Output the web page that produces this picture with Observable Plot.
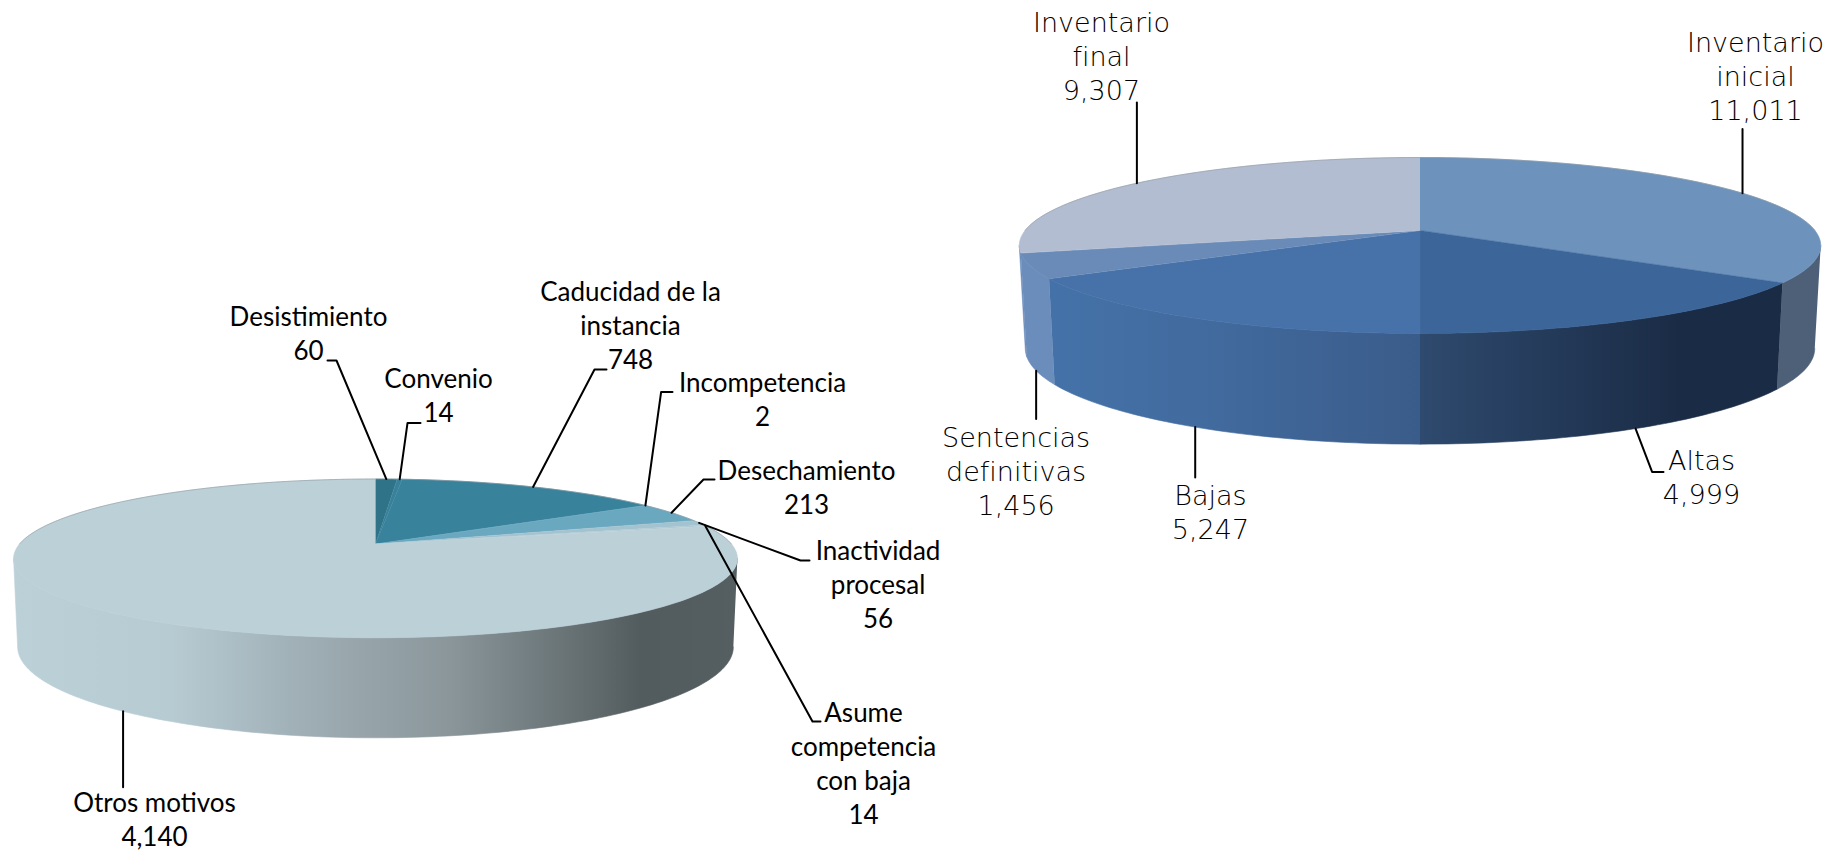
<!DOCTYPE html>
<html lang="es">
<head>
<meta charset="utf-8">
<title>Bajas y movimiento de expedientes</title>
<script src="https://cdn.jsdelivr.net/npm/d3@7"></script>
<script src="https://cdn.jsdelivr.net/npm/@observablehq/plot@0.6"></script>
<style>
  html, body { margin: 0; padding: 0; background: #fff; }
  svg { display: block; }
</style>
</head>
<body>
<div id="chart"></div>
<script>
// ---- data ----
const motivoNames = ["Desistimiento", "Convenio", "Caducidad de la\ninstancia", "Incompetencia", "Desechamiento", "Inactividad\nprocesal", "Asume\ncompetencia\ncon baja", "Otros motivos"];
const motivoValues = [60, 14, 748, 2, 213, 56, 14, 4140];
const movimientoNames = ["Inventario\ninicial", "Altas", "Bajas", "Sentencias\ndefinitivas", "Inventario\nfinal"];
const movimientoValues = [11011, 4999, 5247, 1456, 9307];

// ---- styles ----
const motivoColors = ["#2f7389", "#39809a", "#38829c", "#5f9fb8", "#6aa8c0", "#a3c3d0", "#aec9d3", "#bcd0d8"];
const movimientoColors = ["#6d93bd", "#3c6699", "#4672a9", "#6a8bb8", "#b2bdd2"];
const motivoSideStops = [[[12, "#bcd0d8"], [170, "#b7cbd3"], [300, "#a0afb6"], [450, "#8a969a"], [600, "#5f696c"], [640, "#525b5e"], [736, "#555e61"]]];
const movimientoSideStops = [
  [[1740, "#4e6078"], [1820, "#4e6078"]],
  [[1420, "#2e4a6e"], [1680, "#1a2b45"], [1784, "#1a2b45"]],
  [[1046, "#4472a8"], [1200, "#426b9f"], [1420, "#3a5c8a"]],
  [[1018, "#6b8dbb"], [1050, "#6b8dbb"]],
  [[1018, "#6b8dbb"], [1050, "#6b8dbb"]]
];

// ---- geometry of the two perspective discs ----
const leftDisc = {id: "l", cx: 375, k: 0.18, top: {a: 356, b: 76.8, y0: 543.6}, bottom: {a: 352, b: 88, y0: 630}};
const rightDisc = {id: "r", cx: 1419.5, k: 0.17, top: {a: 394.9, b: 85.4, y0: 230}, bottom: {a: 389, b: 93, y0: 331.6}};

// ---- label layout: [centre x, centre y, rim level, elbow x, elbow y, end x] ----
const motivoLayout = [
  [308, 335, "top", 336, 360, 327],
  [438, 397, "top", 407, 422.6, 420],
  [630, 327, "top", 594, 369, 606],
  [762, 401, "top", 660.6, 391.6, 672],
  [806, 489, "top", 703, 479, 714],
  [877.6, 586, "top", 800, 560, 809],
  [863, 765, "top", 812, 721, 820],
  [154, 821, "bottom", null, 786.7, null]
];
const movimientoLayout = [
  [1755, 78, "top", null, 128.6, null],
  [1701, 479, "bottom", 1651.6, 471.4, 1663],
  [1210, 514, "bottom", null, 477, null],
  [1015.6, 473, "bottom", null, 418.6, null],
  [1101, 58, "top", null, 102, null]
];

const width = 1829, height = 852;
const pie = d3.pie().sort(null).value(d => d);

function project(disc, angle, level) {
  const g = disc[level], u = Math.sin(angle), v = -Math.cos(angle), d = 1 - disc.k * v;
  return {x: disc.cx + g.a * u / d, y: g.y0 + g.b * v / d};
}
function arcPoints(disc, a0, a1, level) {
  const n = Math.max(2, Math.ceil(Math.abs(a1 - a0) / 0.02));
  return d3.range(n + 1).map(i => project(disc, a0 + (a1 - a0) * i / n, level));
}

function gradients(id, stopsList) {
  return () => {
    const defs = d3.create("svg:defs");
    stopsList.forEach((stops, i) => {
      const g = defs.append("linearGradient")
        .attr("id", `${id}${i}`).attr("gradientUnits", "userSpaceOnUse")
        .attr("x1", stops[0][0]).attr("x2", stops[stops.length - 1][0]).attr("y1", 0).attr("y2", 0);
      const span = stops[stops.length - 1][0] - stops[0][0];
      stops.forEach(([x, c]) => g.append("stop").attr("offset", (x - stops[0][0]) / span).attr("stop-color", c));
    });
    return defs.node();
  };
}

function discMarks(disc, values, colors, sideFill) {
  const arcs = pie(values);
  const marks = [];
  // the wall is only seen between the two silhouette angles of the disc
  const sideFrom = Math.acos(-disc.k), sideTo = 2 * Math.PI - sideFrom;
  arcs.forEach((s, i) => {
    const fill = sideFill(i);
    const a0 = Math.max(s.startAngle, sideFrom), a1 = Math.min(s.endAngle, sideTo);
    if (!fill || a1 <= a0) return;
    const poly = [...arcPoints(disc, a0, a1, "top"), ...arcPoints(disc, a1, a0, "bottom")];
    marks.push(Plot.line(poly, {x: "x", y: "y", fill, stroke: fill, strokeWidth: 0.6}));
  });
  arcs.forEach((s, i) => {
    const poly = [{x: disc.cx, y: disc.top.y0}, ...arcPoints(disc, s.startAngle, s.endAngle, "top")];
    marks.push(Plot.line(poly, {x: "x", y: "y", fill: colors[i], stroke: colors[i], strokeWidth: 0.6}));
  });
  const backRim = arcPoints(disc, -Math.PI / 2, Math.PI / 2, "top");
  marks.push(Plot.line(backRim, {x: "x", y: "y", stroke: "#8f9aa0", strokeWidth: 1, strokeOpacity: 0.6}));
  return marks;
}

function labelMarks(disc, values, names, layout, text) {
  const arcs = pie(values);
  const leaders = [];
  arcs.forEach((s, i) => {
    const [, , level, ex, ey, endX] = layout[i];
    const start = project(disc, (s.startAngle + s.endAngle) / 2, level);
    const pts = [start, {x: ex ?? start.x, y: ey}];
    if (endX != null) pts.push({x: endX, y: ey});
    pts.forEach(p => leaders.push({...p, i}));
  });
  const rows = names.map((n, i) => ({x: layout[i][0], y: layout[i][1], label: `${n}\n${d3.format(",")(values[i])}`}));
  return [
    Plot.line(leaders, {x: "x", y: "y", z: "i", stroke: "#000", strokeWidth: 2, curve: "linear"}),
    Plot.text(rows, {x: "x", y: "y", text: "label", textAnchor: "middle", lineAnchor: "middle", fill: "#000", dy: -3, ...text})
  ];
}

const leftText = {fontFamily: "Lato", fontSize: 26, lineHeight: 1.31};
const rightText = {fontFamily: "DejaVu Sans", fontWeight: 200, fontSize: 27, lineHeight: 1.26};

const chart = Plot.plot({
  width, height,
  margin: 0,
  style: {background: "#fff"},
  x: {domain: [0, width], range: [0, width], axis: null},
  y: {domain: [0, height], range: [0, height], axis: null},
  marks: [
    gradients("sl", motivoSideStops),
    gradients("sr", movimientoSideStops),
    ...discMarks(rightDisc, movimientoValues, movimientoColors, i => `url(#sr${i})`),
    ...discMarks(leftDisc, motivoValues, motivoColors, i => i === motivoValues.length - 1 ? "url(#sl0)" : null),
    ...labelMarks(leftDisc, motivoValues, motivoNames, motivoLayout, leftText),
    ...labelMarks(rightDisc, movimientoValues, movimientoNames, movimientoLayout, rightText)
  ]
});
document.getElementById("chart").append(chart);
</script>
</body>
</html>
